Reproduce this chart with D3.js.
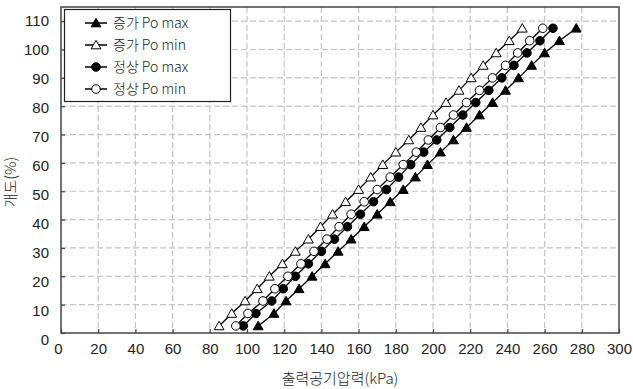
<!DOCTYPE html>
<html>
<head>
<meta charset="utf-8">
<script src="https://cdn.jsdelivr.net/npm/d3@7/dist/d3.min.js"></script>
<style>
  body { margin: 0; background: #fff; }
  svg { display: block; }
  text { font-family: "Liberation Sans", Arial, sans-serif; fill: #222; }
  .kr { font-family: "Noto Sans CJK KR", sans-serif; font-weight: 300; }
</style>
</head>
<body>
<svg width="633" height="389"></svg>
<script>
// opening levels (%)
const openings = [2.5, 6.9, 11.3, 15.6, 20, 24.4, 28.8, 33.1, 37.5, 41.9, 46.3, 50.6, 55,
  59.4, 63.8, 68.1, 72.5, 76.9, 81.3, 85.6, 90, 94.4, 98.8, 103.1, 107.5];

// output air pressure (kPa) per series
const incMax = [106, 114.5, 121, 128, 135, 142, 149, 156, 163, 170, 177, 184, 190.5,
  197, 204, 211, 218, 225, 232, 239, 246, 253, 260, 268, 277];
const incMin = [85, 91.8, 99, 105.5, 112, 119, 126, 133, 139.5, 146, 153, 160, 166.5,
  173, 180, 187, 193.5, 200, 207, 214, 220.5, 227, 234, 241, 248];
const normMax = [98, 104.8, 113.3, 119.5, 126, 133, 140, 147, 154, 161, 168, 175, 181.5,
  188, 195, 202, 209, 216, 223, 230, 237, 243.5, 250.5, 257.5, 264.5];
const normMin = [94, 100.5, 108.6, 115, 122, 129, 136, 143, 149.5, 156, 163, 170, 177,
  184, 191, 197.5, 204, 211, 218, 225, 232, 239, 245.5, 252, 259];

const seriesNames = ['증가 Po max', '증가 Po min', '정상 Po max', '정상 Po min'];
const xTicks = d3.range(0, 301, 20);
const yTicks = d3.range(0, 111, 10);

const series = [
  { name: seriesNames[0], xs: incMax, shape: 'tri', fill: '#000' },
  { name: seriesNames[1], xs: incMin, shape: 'tri', fill: '#fff' },
  { name: seriesNames[2], xs: normMax, shape: 'circ', fill: '#000' },
  { name: seriesNames[3], xs: normMin, shape: 'circ', fill: '#fff' }
];

const svg = d3.select('svg');
const plot = { left: 61, right: 619, top: 7, bottom: 333 };

const x = d3.scaleLinear().domain([0, 300]).range([plot.left, plot.right]);
const y = d3.scaleLinear().domain([0, 115]).range([plot.bottom, plot.top]);
// tick labels in the source drift slightly from the gridlines
const yLab = d3.scaleLinear().domain([0, 110]).range([340, 21]);

// gridlines
const grid = svg.append('g').attr('stroke', '#c4c4c4').attr('stroke-width', 1.2)
  .attr('stroke-dasharray', '6,3');
grid.selectAll('.gx').data(xTicks.slice(1, -1)).enter().append('line')
  .attr('x1', d => x(d)).attr('x2', d => x(d))
  .attr('y1', plot.top).attr('y2', plot.bottom);
grid.selectAll('.gy').data(yTicks.slice(1)).enter().append('line')
  .attr('x1', plot.left).attr('x2', plot.right)
  .attr('y1', d => y(d)).attr('y2', d => y(d));

// frame
svg.append('rect')
  .attr('x', plot.left).attr('y', plot.top)
  .attr('width', plot.right - plot.left).attr('height', plot.bottom - plot.top)
  .attr('fill', 'none').attr('stroke', '#444').attr('stroke-width', 1.5);

// axes
const xAxis = svg.append('g').attr('transform', `translate(0,${plot.bottom})`)
  .call(d3.axisBottom(x).tickValues(xTicks).tickSizeInner(-4).tickSizeOuter(0).tickPadding(10));
xAxis.select('.domain').remove();
xAxis.selectAll('line').attr('stroke', '#444').attr('stroke-width', 1.2);
xAxis.selectAll('text').attr('font-size', 15).attr('fill', '#222')
  .attr('dx', d => d === 0 ? -3 : 0);

const yTickAxis = svg.append('g').attr('transform', `translate(${plot.left},0)`)
  .call(d3.axisLeft(y).tickValues(yTicks).tickSizeInner(-4).tickSizeOuter(0).tickFormat(''));
yTickAxis.select('.domain').remove();
yTickAxis.selectAll('line').attr('stroke', '#444').attr('stroke-width', 1.2);

const yAxis = svg.append('g').attr('transform', `translate(${plot.left},0)`)
  .call(d3.axisLeft(yLab).tickValues(yTicks).tickSize(0).tickPadding(12));
yAxis.select('.domain').remove();
yAxis.selectAll('text').attr('font-size', 15).attr('fill', '#222');

// axis titles
svg.append('text').attr('class', 'kr')
  .attr('x', 340).attr('y', 384).attr('text-anchor', 'middle')
  .attr('font-size', 15).text('출력공기압력(kPa)');
svg.append('text').attr('class', 'kr')
  .attr('transform', 'translate(16,182) rotate(-90)').attr('text-anchor', 'middle')
  .attr('font-size', 15).text('개도(%)');

const triPath = d3.symbol().type(d3.symbolTriangle).size(42)();

function drawMarker(g, s) {
  if (s.shape === 'tri') {
    g.append('path').attr('d', triPath).attr('transform', 'translate(0,1)')
      .attr('fill', s.fill).attr('stroke', '#000').attr('stroke-width', 1);
  } else {
    g.append('circle').attr('r', 4.3)
      .attr('fill', s.fill).attr('stroke', '#000').attr('stroke-width', 1);
  }
}

// series
const line = d3.line().x(d => x(d[0])).y(d => y(d[1]));
series.forEach(s => {
  const pts = s.xs.map((v, i) => [v, openings[i]]);
  svg.append('path').datum(pts).attr('d', line)
    .attr('fill', 'none').attr('stroke', '#000').attr('stroke-width', 1.3);
  svg.append('g').selectAll('g').data(pts).enter().append('g')
    .attr('transform', d => `translate(${x(d[0])},${y(d[1])})`)
    .each(function () { drawMarker(d3.select(this), s); });
});

// legend
const lg = svg.append('g');
lg.append('rect').attr('x', 64.5).attr('y', 9.5).attr('width', 166).attr('height', 92)
  .attr('fill', '#fff').attr('stroke', '#222').attr('stroke-width', 1.2);
series.forEach((s, i) => {
  const yy = 23 + i * 22;
  lg.append('line').attr('x1', 85).attr('x2', 107).attr('y1', yy).attr('y2', yy)
    .attr('stroke', '#000').attr('stroke-width', 1.5);
  drawMarker(lg.append('g').attr('transform', `translate(96,${yy})`), s);
  lg.append('text').attr('class', 'kr').attr('x', 113).attr('y', yy + 5)
    .attr('font-size', 14).text(s.name);
});
</script>
</body>
</html>
